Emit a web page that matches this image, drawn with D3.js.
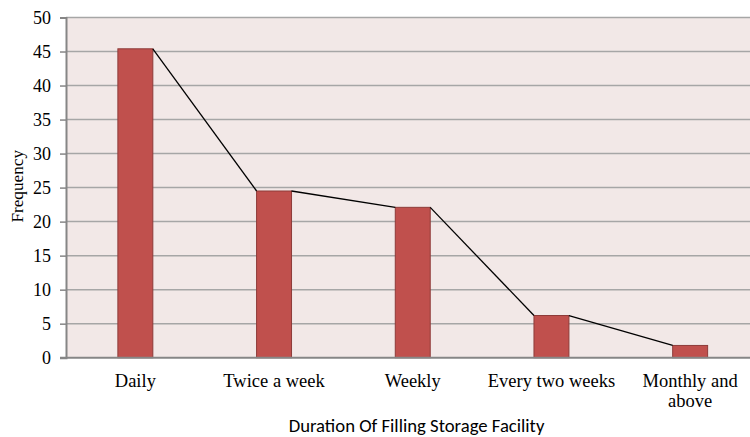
<!DOCTYPE html>
<html>
<head>
<meta charset="utf-8">
<script src="https://cdn.jsdelivr.net/npm/d3@7"></script>
<style>
  html, body { margin: 0; padding: 0; background: #ffffff; }
  svg { display: block; }
</style>
</head>
<body>
<svg id="chart" width="750" height="437"></svg>
<script>
// Frequency of filling the storage facility
const categories = ["Daily", "Twice a week", "Weekly", "Every two weeks", "Monthly and above"];
const frequency = [45.4, 24.5, 22.1, 6.2, 1.8];
const yTicks = [0, 5, 10, 15, 20, 25, 30, 35, 40, 45, 50];
const xTitle = "Duration Of Filling Storage Facility";
const yTitle = "Frequency";

const svg = d3.select("#chart");
const plot = { left: 66, top: 17.5, bottom: 357.7, right: 759.5 };
const serif = "'Liberation Serif', 'Times New Roman', serif";

const x = d3.scaleBand()
  .domain(categories)
  .range([plot.left, plot.right])
  .paddingInner(0.748)
  .paddingOuter(0.374);

const y = d3.scaleLinear().domain([0, 50]).range([plot.bottom, plot.top]);

// plot background
svg.append("rect")
  .attr("x", plot.left).attr("y", plot.top)
  .attr("width", plot.right - plot.left).attr("height", plot.bottom - plot.top)
  .attr("fill", "#f2e8e7");

// horizontal gridlines
svg.append("g")
  .selectAll("line")
  .data(yTicks.filter(d => d > 0))
  .join("line")
  .attr("x1", plot.left).attr("x2", plot.right)
  .attr("y1", d => y(d)).attr("y2", d => y(d))
  .attr("stroke", "#a6a6a6").attr("stroke-width", 1.5);

// y axis
const yAxis = d3.axisLeft(y).tickValues(yTicks).tickSize(6).tickPadding(9);
const gy = svg.append("g").attr("transform", `translate(${plot.left},0)`).call(yAxis);
gy.select(".domain").attr("stroke", "#868686").attr("stroke-width", 2);
gy.selectAll(".tick line").attr("stroke", "#868686").attr("stroke-width", 1.5);
gy.selectAll(".tick text")
  .attr("font-family", serif)
  .attr("font-size", 18).attr("fill", "#000");

// bars
svg.append("g")
  .selectAll("rect")
  .data(categories)
  .join("rect")
  .attr("x", d => x(d))
  .attr("y", (d, i) => y(frequency[i]))
  .attr("width", x.bandwidth())
  .attr("height", (d, i) => y(0) - y(frequency[i]))
  .attr("fill", "#c0504d")
  .attr("stroke", "#8e3b39").attr("stroke-width", 1);

// series lines joining the tops of neighbouring bars
const links = d3.range(categories.length - 1).map(i => [
  [x(categories[i]) + x.bandwidth(), y(frequency[i])],
  [x(categories[i + 1]), y(frequency[i + 1])]
]);
svg.append("g")
  .selectAll("path")
  .data(links)
  .join("path")
  .attr("d", d => d3.line()(d))
  .attr("fill", "none").attr("stroke", "#000").attr("stroke-width", 1.3);

// x axis baseline
svg.append("line")
  .attr("x1", plot.left - 6).attr("x2", plot.right)
  .attr("y1", plot.bottom).attr("y2", plot.bottom)
  .attr("stroke", "#868686").attr("stroke-width", 2);

// category labels (wrapped when long)
const labelLines = {
  "Monthly and above": ["Monthly and", "above"]
};
const xl = svg.append("g")
  .attr("font-family", serif)
  .attr("font-size", 18.5).attr("fill", "#000").attr("text-anchor", "middle");
categories.forEach(c => {
  const cx = x(c) + x.bandwidth() / 2;
  const lines = labelLines[c] || [c];
  const t = xl.append("text").attr("x", cx).attr("y", 386.5);
  lines.forEach((ln, k) => {
    t.append("tspan").attr("x", cx).attr("dy", k === 0 ? 0 : 20.5).text(ln);
  });
});

// axis titles
const xt = svg.append("text")
  .attr("x", 416.5).attr("y", 431.5)
  .attr("text-anchor", "middle")
  .attr("font-family", "Carlito, Calibri, 'Open Sans', 'Liberation Sans', sans-serif")
  .attr("font-size", 16).attr("fill", "#000")
  .text(xTitle);
// size the title so it spans its intended width
const xtLen = xt.node().getComputedTextLength();
xt.attr("font-size", 16 * 256 / xtLen);

svg.append("text")
  .attr("transform", `translate(23,186.3) rotate(-90)`)
  .attr("text-anchor", "middle")
  .attr("font-family", serif)
  .attr("font-size", 17.2).attr("fill", "#000")
  .text(yTitle);
</script>
</body>
</html>
